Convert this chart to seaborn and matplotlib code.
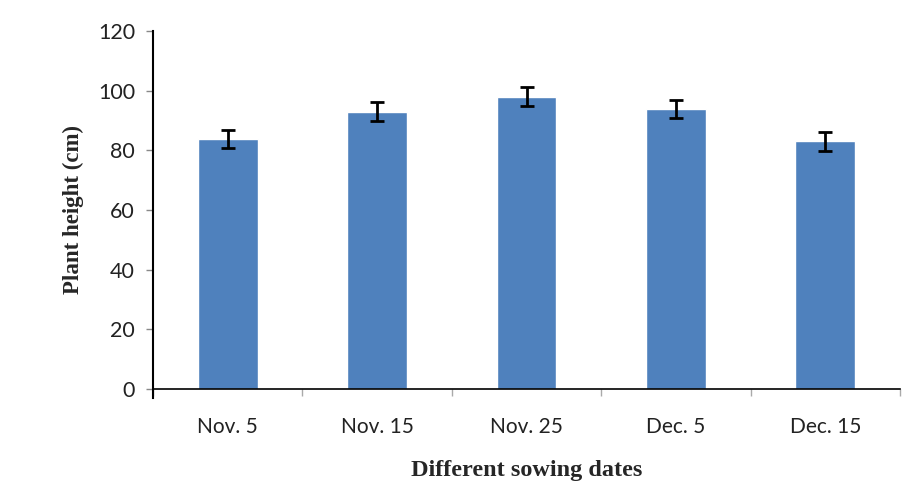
import pandas as pd
import matplotlib.pyplot as plt
import seaborn as sns
import numpy as np

# data
dates = ["Nov. 5", "Nov. 15", "Nov. 25", "Dec. 5", "Dec. 15"]
heights = [83.8, 92.9, 97.9, 94.0, 83.0]
errors = [3.1, 3.2, 3.2, 3.0, 3.2]

sns.set_theme(style="white")
plt.rcParams["font.family"] = ["Lato", "DejaVu Sans"]

df = pd.DataFrame({"date": dates, "height": heights, "err": errors})

fig = plt.figure(figsize=(9.06, 4.83), dpi=100)
ax = fig.add_axes([153 / 906, 1 - 389 / 483, 747 / 906, 358 / 483])

sns.barplot(data=df, x="date", y="height", color="#4F81BD", saturation=1,
            width=0.4, errorbar=None, ax=ax)
xs = np.arange(len(dates))
ax.errorbar(xs, df["height"], yerr=df["err"], fmt="none", ecolor="black",
            elinewidth=2, capsize=5, capthick=2)

ax.set_xlim(-0.5, len(dates) - 0.5)
ax.set_ylim(0, 120)
ax.set_yticks(range(0, 121, 20))
for s in ["top", "right"]:
    ax.spines[s].set_visible(False)
ax.spines["left"].set_color("black")
ax.spines["left"].set_linewidth(1.5)
ax.spines["left"].set_bounds(-3, 120)
ax.spines["bottom"].set_color("black")
ax.spines["bottom"].set_linewidth(1.2)

ax.tick_params(axis="y", direction="out", length=5, width=1, color="#888888",
               labelsize=15.5, pad=8, left=True)
ax.tick_params(axis="x", which="major", length=0, labelsize=15, pad=20)
ax.set_xticks(np.arange(-0.5, len(dates)), minor=True)
ax.tick_params(axis="x", which="minor", direction="out", length=5, width=1,
               color="#aaaaaa", bottom=True)
for lab in ax.get_xticklabels() + ax.get_yticklabels():
    lab.set_color("#222222")

ax.set_xlabel("Different sowing dates", family="Liberation Serif",
              fontweight="bold", fontsize=17.5, labelpad=17)
ax.set_ylabel("Plant height (cm)", family="Liberation Serif",
              fontweight="bold", fontsize=16.5, labelpad=10)

fig.savefig("out.png", dpi=100)
